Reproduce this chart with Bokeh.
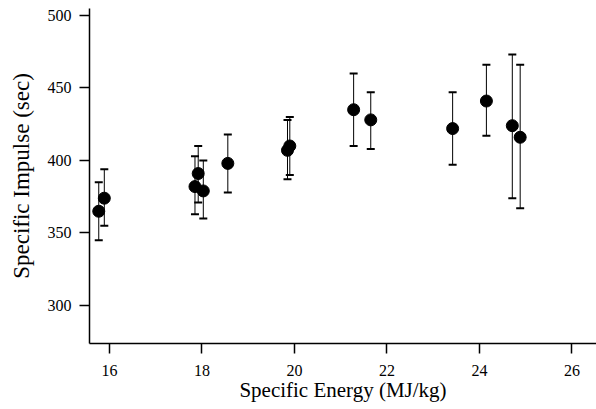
from bokeh.plotting import figure
from bokeh.models import ColumnDataSource, Whisker, TeeHead, Range1d, FixedTicker
from bokeh.embed import file_html
from bokeh.resources import INLINE

# Data
energy = [15.77, 15.89, 17.85, 17.92, 18.03, 18.56, 19.85, 19.90, 21.28, 21.65, 23.42, 24.15, 24.71, 24.88]
impulse = [365, 374, 382, 391, 379, 398, 407, 410, 435, 428, 422, 441, 424, 416]
impulse_upper = [385, 394, 403, 410, 400, 418, 428, 430, 460, 447, 447, 466, 473, 466]
impulse_lower = [345, 355, 363, 371, 360, 378, 387, 390, 410, 408, 397, 417, 374, 367]
x_ticks = [16, 18, 20, 22, 24, 26]
y_ticks = [300, 350, 400, 450, 500]

src = ColumnDataSource(dict(x=energy, y=impulse, upper=impulse_upper, lower=impulse_lower))

FONT = "Liberation Serif"

p = figure(width=596, height=409, output_backend="svg", toolbar_location=None,
           x_range=Range1d(15.57, 26.53), y_range=Range1d(273.8, 504.8),
           min_border_left=89, min_border_bottom=66, min_border_top=8, min_border_right=0)
p.outline_line_color = None
p.xgrid.visible = False
p.ygrid.visible = False
p.background_fill_color = "white"
p.border_fill_color = "white"

w = Whisker(base="x", upper="upper", lower="lower", source=src,
            line_color="black", line_width=1,
            upper_head=TeeHead(size=8, line_width=2, line_color="black"),
            lower_head=TeeHead(size=8, line_width=2, line_color="black"))
p.add_layout(w)

p.scatter("x", "y", source=src, size=12, fill_color="black", line_color="black")

for ax in (p.xaxis[0], p.yaxis[0]):
    ax.axis_line_color = "black"
    ax.axis_line_width = 1.5
    ax.major_tick_line_color = "black"
    ax.major_tick_line_width = 1.5
    ax.major_tick_in = 0
    ax.major_tick_out = 10
    ax.minor_tick_line_color = None
    ax.major_label_text_font = FONT
    ax.major_label_text_font_size = "16px"
    ax.major_label_text_color = "black"
    ax.axis_label_text_font = FONT
    ax.axis_label_text_font_style = "normal"
    ax.axis_label_text_color = "black"

p.xaxis.axis_label_text_font_size = "21px"
p.yaxis.axis_label_text_font_size = "23px"
p.xaxis.ticker = FixedTicker(ticks=x_ticks)
p.yaxis.ticker = FixedTicker(ticks=y_ticks)
p.xaxis.axis_label = "Specific Energy (MJ/kg)"
p.yaxis.axis_label = "Specific Impulse (sec)"
p.xaxis.major_label_standoff = 11
p.xaxis.axis_label_standoff = -1
p.yaxis.major_label_standoff = 8
p.yaxis.axis_label_standoff = 11

open("out.html", "w").write(file_html(p, INLINE))
